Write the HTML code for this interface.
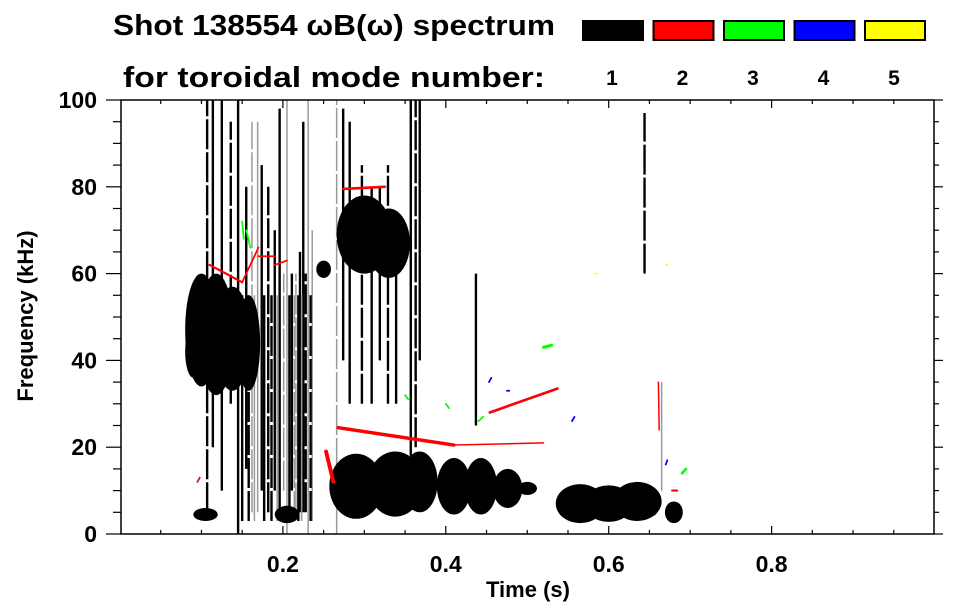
<!DOCTYPE html>
<html><head><meta charset="utf-8"><style>
html,body{margin:0;padding:0;background:#fff;width:963px;height:615px;overflow:hidden}
text{font-family:"Liberation Sans",Arial,sans-serif;font-weight:bold;fill:#000}
</style></head><body>
<svg id="chart" width="963" height="615" viewBox="0 0 963 615" xmlns="http://www.w3.org/2000/svg">
<text x="113" y="35" font-size="29" textLength="442" lengthAdjust="spacingAndGlyphs">Shot 138554 ωB(ω) spectrum</text>
<text x="123" y="87" font-size="29" textLength="422" lengthAdjust="spacingAndGlyphs">for toroidal mode number:</text>
<g id="legend"></g>
<g id="marks"></g>
<g id="axes"></g>
<text x="528" y="597" font-size="22" text-anchor="middle">Time (s)</text>
<text x="0" y="0" font-size="22" text-anchor="middle" transform="translate(33,316) rotate(-90)">Frequency (kHz)</text>
</svg>
<script>
// ---- data ----
var modeLabels = ["1","2","3","4","5"];
var modeColors = ["#000000","#ff0000","#00ff00","#0000ff","#ffff00"];
var xTickLabels = ["0.2","0.4","0.6","0.8"];
var xTickValues = [0.2,0.4,0.6,0.8];
var yTickLabels = ["0","20","40","60","80","100"];
var yTickValues = [0,20,40,60,80,100];
// mode 1 blobs: center time (s), center freq (kHz), half-width (s), half-height (kHz)
var blobT  = [0.100,0.118,0.138,0.158,0.090,0.300,0.330,0.290,0.338,0.368,0.410,0.443,0.476,0.500,0.565,0.600,0.635,0.652,0.680,0.205,0.105,0.250];
var blobF  = [47,46,45,44,42,69,67,11,11.5,12,11,11,10.5,10.5,7,7,7.5,7,5,4.5,4.5,61];
var blobDT = [0.020,0.022,0.022,0.014,0.010,0.034,0.026,0.033,0.034,0.022,0.021,0.020,0.018,0.012,0.030,0.030,0.030,0.010,0.011,0.015,0.015,0.009];
var blobDF = [13,14,12,11,6,9,8,7.5,7.5,7,6.5,6.5,4.5,1.5,4.5,4.2,4.5,3,2.5,2,1.5,2];
// vertical streaks: time, f start, f end, shade (0 black, 1 gray)
var streakT  = [0.107,0.114,0.125,0.136,0.145,0.155,0.162,0.169,0.174,0.182,0.190,0.196,0.201,0.205,0.211,0.216,0.221,0.225,0.228,0.231,0.236,0.266,0.274,0.282,0.297,0.309,0.319,0.329,0.339,0.357,0.363,0.368,0.437,0.644,0.665,0.150,0.158,0.165,0.177,0.186,0.193,0.208,0.214,0.219,0.223,0.234];
var streakF0 = [5,20,10,30,0,15,5,5,10,5,10,5,10,0,10,5,5,5,5,0,3,0,40,30,30,30,40,30,30,18,20,40,25,60,10,3,3,3,3,3,3,3,3,3,3,3];
var streakF1 = [100,100,100,95,100,80,95,95,85,80,70,98,60,100,60,60,65,95,60,100,70,100,98,95,85,80,80,85,70,100,100,100,60,97,35,55,55,55,55,55,55,55,55,55,55,55];
var streakShade = [0,0,0,0,0,0,1,1,0,0,0,0,1,1,0,1,0,0,0,1,1,1,0,0,0,0,0,0,0,0,0,0,0,0,1,0,0,1,0,0,1,0,1,0,1,0];
// colored mode segments: mode index, t0, f0, t1, f1, thickness kHz
var segMode = [1,1,1,1,1,1,1,1,1,1,1,2,2,2,2,2,2,2,3,3,3,3,4,4,1,1];
var segT0   = [0.268,0.410,0.454,0.253,0.274,0.110,0.130,0.150,0.170,0.190,0.661,0.520,0.690,0.350,0.400,0.440,0.150,0.155,0.453,0.475,0.555,0.670,0.583,0.670,0.678,0.095];
var segF0   = [24.5,20.5,28,19,79.5,62,60,58,64,62,35,43,14,32,30,26,72,70,35,33,26,16,60,62,10,12];
var segT1   = [0.410,0.520,0.537,0.262,0.325,0.130,0.150,0.170,0.190,0.205,0.662,0.530,0.695,0.354,0.404,0.446,0.152,0.160,0.456,0.478,0.558,0.672,0.585,0.672,0.684,0.098];
var segF1   = [20.5,21,33.5,12,80,60,58,66,64,63,24,43.5,15,31,29,27,68,66,36,33,27,17,60,62,10,13];
var segW    = [0.8,0.3,0.6,0.9,0.6,0.5,0.5,0.4,0.4,0.4,0.3,0.7,0.6,0.4,0.4,0.4,0.4,0.4,0.4,0.4,0.4,0.4,0.4,0.4,0.5,0.4];
// ---- scales ----
var X0=120, XS=814.5, Y0=534, YS=4.34;
function xs(t){return X0+t*XS;}
function ys(f){return Y0-f*YS;}
var NS="http://www.w3.org/2000/svg";
function mk(tag,parent,attrs){var e=document.createElementNS(NS,tag);for(var k in attrs)e.setAttribute(k,attrs[k]);parent.appendChild(e);return e;}
var marks=document.getElementById('marks');
var axes=document.getElementById('axes');
var legend=document.getElementById('legend');
// legend
for(var i=0;i<modeLabels.length;i++){
  var lx=582+i*70.5;
  var r=mk('rect',legend,{x:lx+1,y:21,width:60,height:19,fill:modeColors[i],stroke:'#000','stroke-width':2});
  
  
  var tx=mk('text',legend,{x:lx+30,y:85,'font-size':21,'text-anchor':'middle'});
  tx.textContent=modeLabels[i];
  
  
}
// streaks
for(var i=0;i<streakT.length;i++){
  var s=mk('line',marks,{x1:xs(streakT[i]),x2:xs(streakT[i]),y1:ys(streakF0[i]),y2:ys(streakF1[i]),stroke:streakShade[i]?'#999':'#000','stroke-width':streakShade[i]?1.5:2.4,'stroke-dasharray':(i%3==0)?'30 3':'none'});
  
  
}
// blobs
for(var i=0;i<blobT.length;i++){
  var b=mk('ellipse',marks,{cx:xs(blobT[i]),cy:ys(blobF[i]),rx:blobDT[i]*XS,ry:blobDF[i]*YS,fill:'#000'});
  
  
}
// colored segments
for(var i=0;i<segMode.length;i++){
  var g=mk('line',marks,{x1:xs(segT0[i]),y1:ys(segF0[i]),x2:xs(segT1[i]),y2:ys(segF1[i]),stroke:modeColors[segMode[i]],'stroke-width':Math.max(1.5,segW[i]*YS),'stroke-linecap':'round'});
  
  
}
// axes frame
var fr=mk('rect',axes,{x:121,y:100,width:813,height:434,fill:'none',stroke:'#000','stroke-width':1.5});


// x ticks (minor every 0.05)
for(var k=1;k<20;k++){
  var t=k*0.05, major=(k%4==0), L=major?8:4;
  mk('line',axes,{x1:xs(t),x2:xs(t),y1:534,y2:534-L,stroke:'#000','stroke-width':1.2});
  mk('line',axes,{x1:xs(t),x2:xs(t),y1:100,y2:100+L,stroke:'#000','stroke-width':1.2});
}
for(var i=0;i<xTickValues.length;i++){
  var tl=mk('text',axes,{x:xs(xTickValues[i]),y:572,'font-size':23,'text-anchor':'middle'});
  tl.textContent=xTickLabels[i];
  
  
}
// y ticks (minor every 5)
for(var k=0;k<=20;k++){
  var f=k*5, major=(k%4==0), L=major?15:8;
  mk('line',axes,{x1:121,x2:121-L,y1:ys(f),y2:ys(f),stroke:'#000','stroke-width':1.2});
  mk('line',axes,{x1:934,x2:934+(major?9:5),y1:ys(f),y2:ys(f),stroke:'#000','stroke-width':1.2});
}
for(var i=0;i<yTickValues.length;i++){
  var yl=mk('text',axes,{x:97,y:ys(yTickValues[i])+8,'font-size':23,'text-anchor':'end'});
  yl.textContent=yTickLabels[i];
  
  
}
</script>
</body></html>
